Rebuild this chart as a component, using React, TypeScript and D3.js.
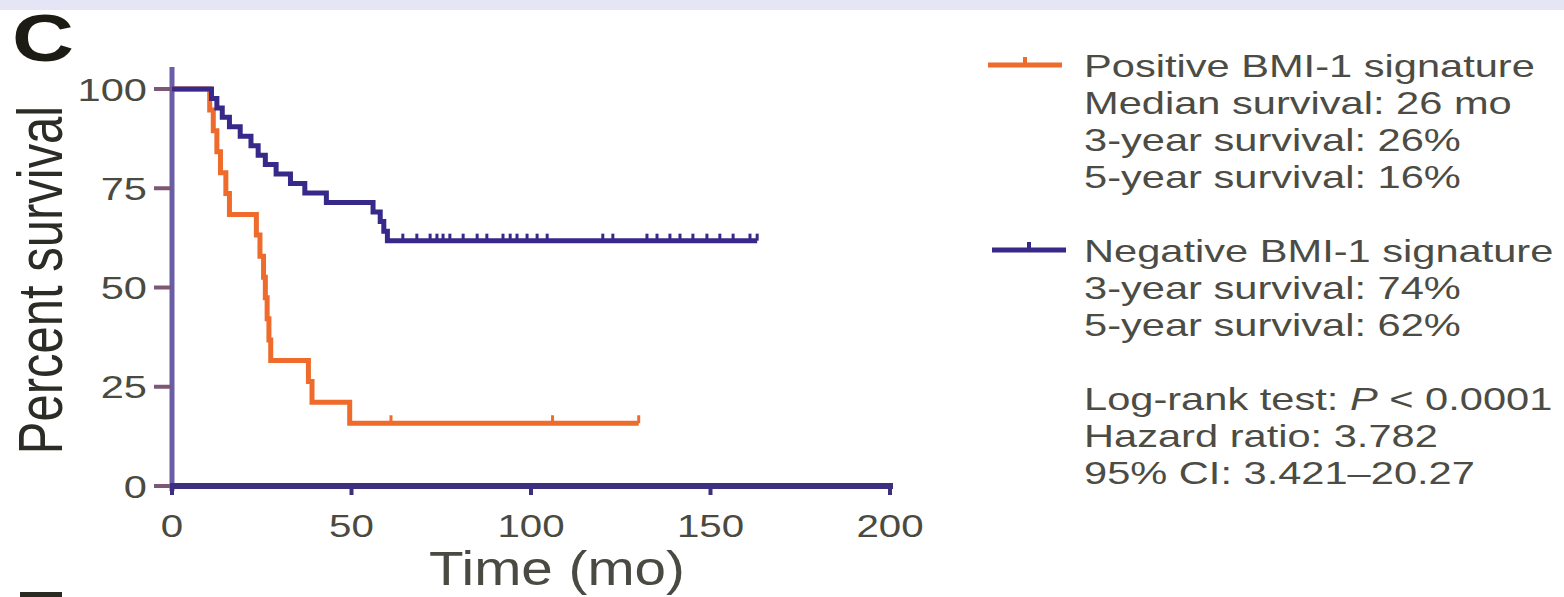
import React from 'react';
import * as d3 from 'd3';

const W = 1564;
const H = 597;

const yTicks = [0, 25, 50, 75, 100];
const xTicks = [0, 50, 100, 150, 200];

// Positive BMI-1 signature (Kaplan-Meier steps): time (mo), survival (%)
const posTimes = [0, 10.5, 11.5, 12.5, 13.5, 15, 16, 23.5, 24.5, 25.5, 26, 26.5, 27, 27.5, 38, 39, 49.5, 130];
const posSurv = [100, 94.7, 89.5, 84.2, 78.9, 73.7, 68.4, 63.2, 57.9, 52.6, 47.4, 42.1, 36.8, 31.6, 26.3, 21.1, 15.8, 15.8];
const posCensor = [61, 106, 130];

// Negative BMI-1 signature
const negTimes = [0, 11, 12.5, 14, 16, 19, 22, 24, 26, 29, 33, 37, 43, 56, 58, 59, 60, 163];
const negSurv = [100, 97.6, 95.2, 92.9, 90.5, 88.1, 85.7, 83.3, 81.0, 78.6, 76.2, 73.8, 71.4, 69.0, 66.6, 64.2, 61.8, 61.8];
const negCensor = [64.3, 68.2, 71.9, 73.8, 75.5, 77.4, 81.1, 85, 87.7, 92.2, 94.2, 96.1, 98.9, 101.7, 104.5, 120, 122.8, 132.3, 135.1, 138.7, 141.5, 145.1, 149, 152.6, 156.3, 161, 163];

const legendPos = ['Positive BMI-1 signature', 'Median survival: 26 mo', '3-year survival: 26%', '5-year survival: 16%'];
const legendNeg = ['Negative BMI-1 signature', '3-year survival: 74%', '5-year survival: 62%'];
const legendStats = ['Log-rank test: |P| < 0.0001', 'Hazard ratio: 3.782', '95% CI: 3.421\u201320.27'];

const FONT = 'Liberation Sans, Arial, Helvetica, sans-serif';
const ORANGE = '#ee6b2c';
const BLUE = '#36298a';

function SText(props: any) {
  const { x, y, sx = 1, anchor = 'start', size, fill = '#4c4c44', weight = 'normal', children, extra = '' } = props;
  return (
    <text
      transform={`translate(${x},${y}) scale(${sx},1)${extra}`}
      textAnchor={anchor}
      fontSize={size}
      fill={fill}
      fontWeight={weight}
      fontFamily={FONT}
    >
      {children}
    </text>
  );
}

// "|P|" marks an italic segment
function richText(s: string) {
  const parts = s.split('|');
  return parts.map((p, i) =>
    i % 2 === 1 ? (
      <tspan key={i} fontStyle="italic">
        {p}
      </tspan>
    ) : (
      <tspan key={i}>{p}</tspan>
    )
  );
}

export default function App() {
  const x = d3.scaleLinear().domain([0, 200]).range([172, 890]);
  const y = d3.scaleLinear().domain([0, 100]).range([486, 89]);

  const line = d3
    .line<[number, number]>()
    .x((d) => x(d[0]))
    .y((d) => y(d[1]))
    .curve(d3.curveStepAfter);

  const posData: [number, number][] = posTimes.map((t, i) => [t, posSurv[i]]);
  const negData: [number, number][] = negTimes.map((t, i) => [t, negSurv[i]]);

  const survAt = (times: number[], surv: number[], t: number) => {
    let v = surv[0];
    for (let i = 0; i < times.length; i++) if (times[i] <= t) v = surv[i];
    return v;
  };

  const legendX = 1084;
  const lineY0 = 65;
  const step = 37;
  const rowY = (i: number) => lineY0 + step * i;

  const legendRows: { text: string; idx: number }[] = [
    ...legendPos.map((t, i) => ({ text: t, idx: i })),
    ...legendNeg.map((t, i) => ({ text: t, idx: 5 + i })),
    ...legendStats.map((t, i) => ({ text: t, idx: 9 + i })),
  ];

  return (
    <svg
      width={W}
      height={H}
      viewBox={`0 0 ${W} ${H}`}
      style={{ position: 'fixed', left: 0, top: 0, background: '#ffffff' }}
    >
      <rect x={0} y={0} width={W} height={H} fill="#ffffff" />
      <rect x={0} y={0} width={W} height={10} fill="#e5e5f6" />

      {/* panel letter */}
      <SText x={12} y={61} sx={1.3} size={66} weight="bold" fill="#1c1c14">C</SText>
      <rect x={20} y={592} width={42} height={5} fill="#2a2a22" />

      {/* y title */}
      <SText x={62} y={280} sx={1.28} size={49} anchor="middle" fill="#2c2c26" extra=" rotate(-90)">
        Percent survival
      </SText>

      {/* y axis */}
      <line x1={x(0)} x2={x(0)} y1={67} y2={491} stroke="#6b5ea8" strokeWidth={5} />
      {yTicks.map((t) => (
        <g key={'yt' + t}>
          <line x1={154} x2={x(0)} y1={y(t)} y2={y(t)} stroke="#7d5876" strokeWidth={4} />
          <SText x={147} y={y(t) + 11.5} sx={1.3} size={32} anchor="end" fill="#4a4a40">
            {t}
          </SText>
        </g>
      ))}

      {/* x axis */}
      <line x1={x(0) - 2} x2={x(200) + 3} y1={y(0)} y2={y(0)} stroke="#3c2f80" strokeWidth={6} />
      {xTicks.map((t) => (
        <g key={'xt' + t}>
          <line x1={x(t)} x2={x(t)} y1={y(0)} y2={y(0) + 9} stroke="#3c2f80" strokeWidth={4} />
          <SText x={x(t)} y={537} sx={1.3} size={31} anchor="middle" fill="#4a4a40">
            {t}
          </SText>
        </g>
      ))}
      <SText x={557} y={585} sx={1.18} size={48} anchor="middle" fill="#4a4a42">
        Time (mo)
      </SText>

      {/* curves */}
      <path d={line(posData) || ''} fill="none" stroke={ORANGE} strokeWidth={5} strokeLinejoin="miter" />
      {posCensor.map((t, i) => (
        <line
          key={'pc' + i}
          x1={x(t)}
          x2={x(t)}
          y1={y(survAt(posTimes, posSurv, t))}
          y2={y(survAt(posTimes, posSurv, t)) - 8}
          stroke={ORANGE}
          strokeWidth={3}
        />
      ))}
      <path d={line(negData) || ''} fill="none" stroke={BLUE} strokeWidth={5} strokeLinejoin="miter" />
      {negCensor.map((t, i) => (
        <line
          key={'nc' + i}
          x1={x(t)}
          x2={x(t)}
          y1={y(survAt(negTimes, negSurv, t))}
          y2={y(survAt(negTimes, negSurv, t)) - 7}
          stroke={BLUE}
          strokeWidth={3}
        />
      ))}

      {/* legend markers */}
      <line x1={988} x2={1062} y1={rowY(0)} y2={rowY(0)} stroke={ORANGE} strokeWidth={5} />
      <line x1={1025} x2={1025} y1={rowY(0)} y2={rowY(0) - 8} stroke={ORANGE} strokeWidth={4} />
      <line x1={992} x2={1066} y1={rowY(5)} y2={rowY(5)} stroke={BLUE} strokeWidth={5} />
      <line x1={1029} x2={1029} y1={rowY(5)} y2={rowY(5) - 8} stroke={BLUE} strokeWidth={4} />

      {/* legend text */}
      {legendRows.map((r) => (
        <SText key={r.text} x={legendX} y={rowY(r.idx) + 11.5} sx={1.3} size={32} fill="#4c4c44">
          {richText(r.text)}
        </SText>
      ))}
    </svg>
  );
}
